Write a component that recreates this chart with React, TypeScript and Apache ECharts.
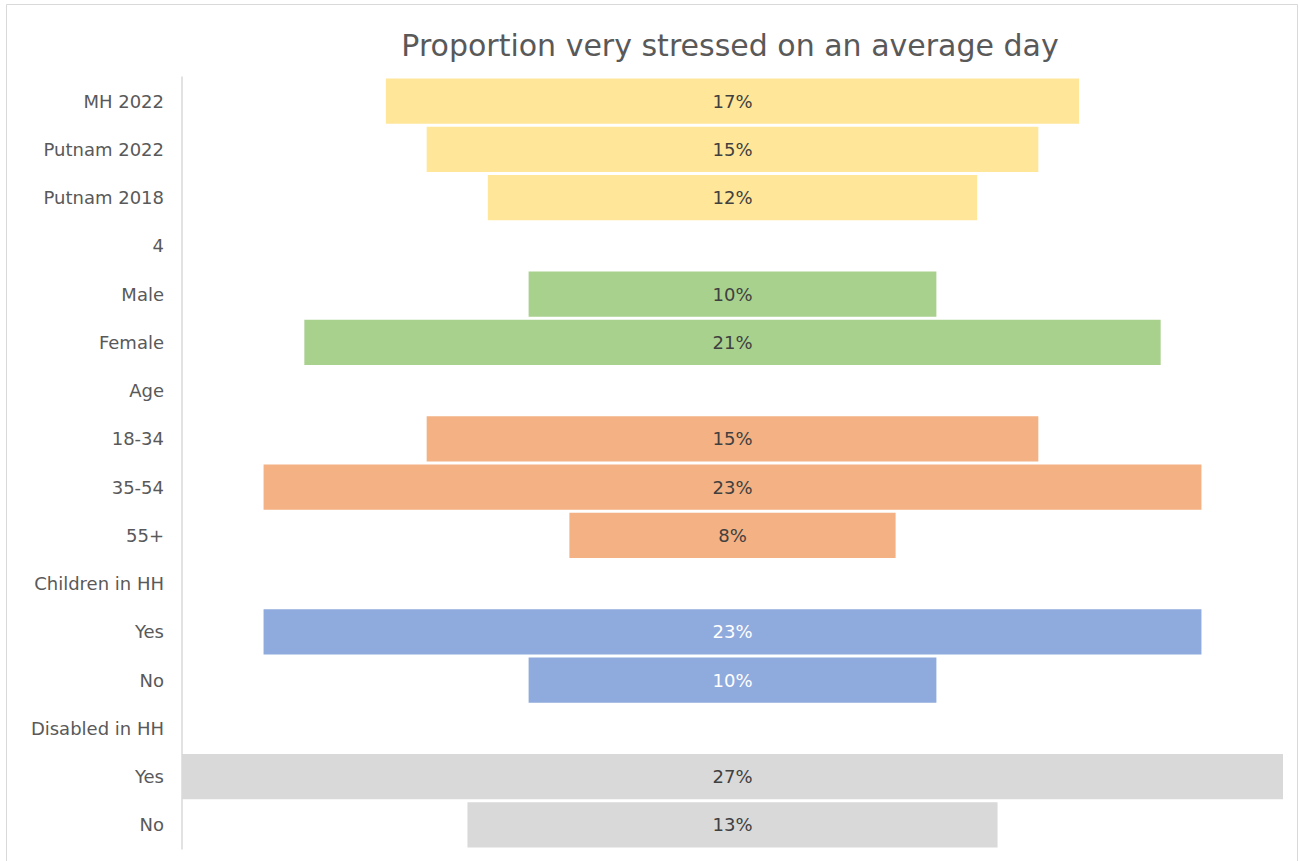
import React, { useEffect, useRef } from "react";
import * as echarts from "echarts";

const categories = [
  "MH 2022", "Putnam 2022", "Putnam 2018", "4", "Male", "Female", "Age",
  "18-34", "35-54", "55+", "Children in HH", "Yes", "No", "Disabled in HH", "Yes", "No",
];
const values: (number | null)[] = [17, 15, 12, null, 10, 21, null, 15, 23, 8, null, 23, 10, null, 27, 13];
const groupColors = [
  "#FFE699", "#FFE699", "#FFE699", "#FFE699",
  "#A9D18E", "#A9D18E", "#F4B183",
  "#F4B183", "#F4B183", "#F4B183", "#8FAADC",
  "#8FAADC", "#8FAADC", "#D9D9D9", "#D9D9D9", "#D9D9D9",
];
const labelColors = [
  "#404040", "#404040", "#404040", "#404040", "#404040", "#404040", "#404040",
  "#404040", "#404040", "#404040", "#ffffff", "#ffffff", "#ffffff", "#404040", "#404040", "#404040",
];
const maxValue = 27;
const FONT = "'DejaVu Sans', 'Noto Sans', sans-serif";

export default function App() {
  const ref = useRef<HTMLDivElement>(null);
  useEffect(() => {
    if (!ref.current) return;
    const chart = echarts.init(ref.current, null, { renderer: "svg" });
    const offsets = values.map((v) => (v == null ? null : (maxValue - v) / 2));
    chart.setOption({
      animation: false,
      backgroundColor: "#ffffff",
      title: {
        text: "Proportion very stressed on an average day",
        left: 725,
        textAlign: "center",
        top: 25,
        textStyle: { fontFamily: FONT, fontSize: 30, fontWeight: "normal", color: "#595959" },
      },
      graphic: [
        {
          type: "rect",
          shape: { x: 6.5, y: 4.5, width: 1291, height: 870 },
          style: { fill: "none", stroke: "#d9d9d9", lineWidth: 1 },
          silent: true,
        },
      ],
      grid: { left: 182, right: 16, top: 77, bottom: 12, containLabel: false },
      xAxis: { type: "value", min: 0, max: maxValue, show: false },
      yAxis: {
        type: "category",
        data: categories,
        inverse: true,
        axisLine: { show: true, lineStyle: { color: "#d9d9d9", width: 1.5 } },
        axisTick: { show: false },
        axisLabel: { fontFamily: FONT, fontSize: 18, color: "#595959", margin: 18 },
      },
      series: [
        {
          type: "bar",
          stack: "s",
          data: offsets,
          itemStyle: { color: "transparent" },
          silent: true,
          barCategoryGap: "6%",
        },
        {
          type: "bar",
          stack: "s",
          barCategoryGap: "6%",
          data: values.map((v, i) => ({
            value: v,
            itemStyle: { color: groupColors[i] },
            label: { color: labelColors[i] },
          })),
          label: {
            show: true,
            position: "inside",
            fontFamily: FONT,
            fontSize: 18,
            formatter: (p: any) => (p.value == null ? "" : p.value + "%"),
          },
        },
      ],
    });
    return () => chart.dispose();
  }, []);
  return (
    <div
      ref={ref}
      style={{ position: "fixed", left: 0, top: 0, width: 1299, height: 861 }}
    />
  );
}
